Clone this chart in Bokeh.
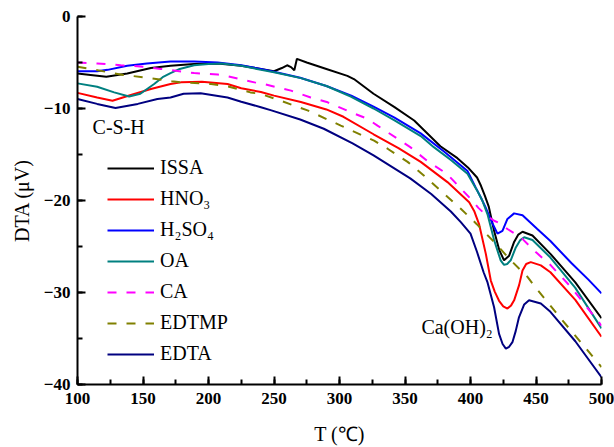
from bokeh.plotting import figure
from bokeh.models import Range1d, SingleIntervalTicker, Legend, LegendItem, Label
from bokeh.embed import file_html
from bokeh.resources import INLINE

FONT = "Liberation Serif"

# ---------------- data ----------------
issa_t = [100, 110, 122, 138, 156, 171, 189, 207, 225, 240, 250, 256, 260, 263, 265.5, 267.5, 275, 290, 306, 311,
          326, 342, 357, 377, 390, 398, 405, 408, 411, 414, 418, 422, 425.6, 429.5, 433.3, 436.5, 439.7, 447.3, 461, 480, 500]
issa_v = [-6.2, -6.35, -6.55, -6.2, -5.6, -5.35, -5.17, -5.1, -5.35, -5.7, -5.95, -5.6, -5.3, -5.5, -5.85, -4.6, -5.0, -5.7, -6.45, -6.8,
          -8.4, -9.85, -11.3, -14.1, -15.4, -16.4, -17.5, -18.4, -19.5, -20.7, -23.3, -25.4, -26.5, -26.0, -24.5, -23.7, -23.4, -23.8, -25.8, -28.9, -32.8]

hno3_t = [100, 115, 126.7, 140.7, 156, 171, 179, 195, 214.5, 225, 240, 250, 270.5, 290, 303, 326, 345, 362, 382.4, 399,
          403, 406.6, 411.7, 415.5, 418.5, 421.8, 425, 428.2, 431, 433.3, 437.1, 439.7, 442.5, 446, 453.7, 461, 480, 500]
hno3_v = [-8.3, -8.8, -9.15, -8.53, -7.88, -7.34, -7.16, -7.1, -7.34, -7.8, -8.2, -8.6, -9.3, -10.1, -10.9, -12.8, -14.3, -15.8, -18.0, -20.2,
          -21.2, -22.6, -25.8, -28.7, -29.9, -30.9, -31.5, -31.75, -31.4, -30.85, -29.2, -27.6, -26.9, -26.7, -27.05, -27.8, -30.8, -34.8]

h2so4_t = [100, 115, 123, 138, 153, 171, 189, 207, 225, 240, 250, 270, 290, 309, 326, 342, 362, 380, 397.7, 404,
           408, 412, 416.8, 420.6, 424.4, 428.2, 433.3, 439.7, 451, 461, 477, 490, 500]
h2so4_v = [-5.96, -5.96, -5.8, -5.35, -5.1, -4.9, -4.88, -5.0, -5.3, -5.7, -6.0, -6.65, -7.55, -8.6, -9.8, -11.0, -12.7, -14.7, -16.8, -18.6,
           -19.7, -20.9, -22.5, -23.6, -23.3, -22.0, -21.4, -21.6, -23.1, -24.4, -26.8, -28.6, -30.1]

oa_t = [100, 115, 128, 139.4, 148, 158.5, 165, 171, 178, 189, 200, 210, 225, 240, 250, 270.5, 290, 308.6, 326, 342,
        362, 372, 385, 397.7, 405, 409, 413, 418, 423, 425.6, 428, 430.7, 434.6, 438, 441, 447.3, 461, 480, 500]
oa_v = [-7.27, -7.63, -8.25, -8.7, -8.4, -7.34, -6.6, -6.15, -5.7, -5.3, -5.15, -5.1, -5.35, -5.8, -6.07, -6.7, -7.55, -8.7, -10.0, -11.3,
        -13.0, -14.2, -15.6, -17.1, -18.9, -20.0, -21.5, -24.3, -26.5, -27.0, -26.9, -26.5, -25.1, -24.3, -24.0, -24.3, -26.2, -29.5, -33.9]

ca_t = [100, 115, 133, 150, 163.6, 189, 207, 214.5, 235, 240, 263, 278, 291, 308.6, 321, 329, 354, 367, 382, 392.6,
        400, 406, 412, 418, 423, 428.2, 438.4, 449.8, 461.3, 476.6, 500]
ca_v = [-5.0, -5.1, -5.3, -5.45, -5.7, -6.15, -6.3, -6.5, -7.16, -7.27, -8.06, -8.8, -9.33, -10.4, -11.1, -11.86, -14.2, -15.7, -17.1, -18.7,
        -19.8, -20.8, -21.6, -22.2, -22.5, -23.1, -24.0, -25.6, -27.05, -29.4, -33.6]

edtmp_t = [100, 112, 125, 135, 150, 160, 172, 180, 202, 215, 232, 240, 250, 275.6, 301, 326.4, 337, 352, 364.6, 380,
           392.6, 405, 418, 430.7, 443.5, 451, 470, 500]
edtmp_v = [-5.46, -5.75, -6.1, -6.35, -6.6, -6.8, -7.05, -7.16, -7.34, -7.6, -8.25, -8.42, -8.9, -10.2, -11.86, -13.5, -14.4, -15.8, -17.3, -19.3,
           -20.9, -22.6, -24.5, -26.5, -28.3, -29.7, -33.0, -38.1]

edta_t = [100, 115, 129, 146, 161, 171, 181, 194, 214.5, 225, 240, 248, 270, 288, 310, 326, 354, 370, 385, 392.6,
          400, 405, 410, 413, 418, 421.8, 424.5, 427, 429.5, 432, 434.5, 437, 441, 444.7, 453.7, 461, 480, 500]
edta_v = [-8.96, -9.5, -9.94, -9.5, -8.96, -8.8, -8.4, -8.35, -8.8, -9.26, -9.87, -10.2, -11.2, -12.2, -13.8, -15.1, -17.6, -19.3, -21.2, -22.35,
          -23.6, -25.6, -27.8, -28.9, -31.6, -34.5, -35.6, -36.1, -35.9, -35.4, -34.2, -32.7, -31.3, -30.85, -31.2, -32.1, -35.3, -39.2]

labels = ["ISSA", "HNO\u2083", "H\u2082SO\u2084", "OA", "CA", "EDTMP", "EDTA"]
colors = ["#000000", "#FF0000", "#0000FF", "#008080", "#FF00FF", "#808000", "#000080"]
dashes = ["solid", "solid", "solid", "solid", "9 10", "9 10", "solid"]
xs = [issa_t, hno3_t, h2so4_t, oa_t, ca_t, edtmp_t, edta_t]
ys = [issa_v, hno3_v, h2so4_v, oa_v, ca_v, edtmp_v, edta_v]

x_ticks_interval = 50
y_ticks_interval = 10
x_title = "T (\u2103)"
y_title = "DTA (\u03bcV)"

# ---------------- figure ----------------
p = figure(width=614, height=447, x_range=Range1d(100, 500), y_range=Range1d(-40, 0),
           output_backend="svg", toolbar_location=None,
           min_border_left=77, min_border_right=13, min_border_top=16, min_border_bottom=63)
p.outline_line_color = None
p.grid.visible = False
p.background_fill_color = "white"
p.border_fill_color = "white"

items = []
for lab, x, y, c, d in zip(labels, xs, ys, colors, dashes):
    r = p.line(x, y, line_color=c, line_width=2, line_dash=d)
    items.append(LegendItem(label=lab, renderers=[r]))

legend = Legend(items=items, location=(30, 19), orientation="vertical",
                glyph_width=47, glyph_height=20, label_height=20, label_standoff=6,
                spacing=8, padding=0, margin=0, border_line_color=None,
                background_fill_alpha=0, label_text_font=FONT, label_text_font_size="20px",
                label_text_color="black")
p.add_layout(legend)

for ax in (p.xaxis[0], p.yaxis[0]):
    ax.axis_line_width = 2
    ax.axis_line_color = "black"
    ax.major_tick_in = 8
    ax.major_tick_out = 0
    ax.minor_tick_in = 5
    ax.minor_tick_out = 0
    ax.major_tick_line_width = 2
    ax.minor_tick_line_width = 2
    ax.major_tick_line_color = "black"
    ax.minor_tick_line_color = "black"
    ax.major_label_text_font = FONT
    ax.major_label_text_font_style = "bold"
    ax.major_label_text_font_size = "17px"
    ax.major_label_text_color = "black"
    ax.axis_label_text_font = FONT
    ax.axis_label_text_font_style = "normal"
    ax.axis_label_text_font_size = "20px"
    ax.axis_label_text_color = "black"

p.xaxis.ticker = SingleIntervalTicker(interval=x_ticks_interval, num_minor_ticks=2)
p.yaxis.ticker = SingleIntervalTicker(interval=y_ticks_interval, num_minor_ticks=2)
p.xaxis.major_label_standoff = 8
p.yaxis.major_label_standoff = 7
p.xaxis.axis_label = x_title
p.yaxis.axis_label = y_title
p.xaxis.axis_label_standoff = 16
p.yaxis.axis_label_standoff = 8

p.add_layout(Label(x=111.5, y=-12.0, text="C-S-H", text_font=FONT, text_font_size="20px",
                   text_baseline="middle", text_color="black"))
p.add_layout(Label(x=362.5, y=-33.7, text="Ca(OH)\u2082", text_font=FONT, text_font_size="20px",
                   text_baseline="middle", text_color="black"))

open("out.html", "w").write(file_html(p, INLINE))
